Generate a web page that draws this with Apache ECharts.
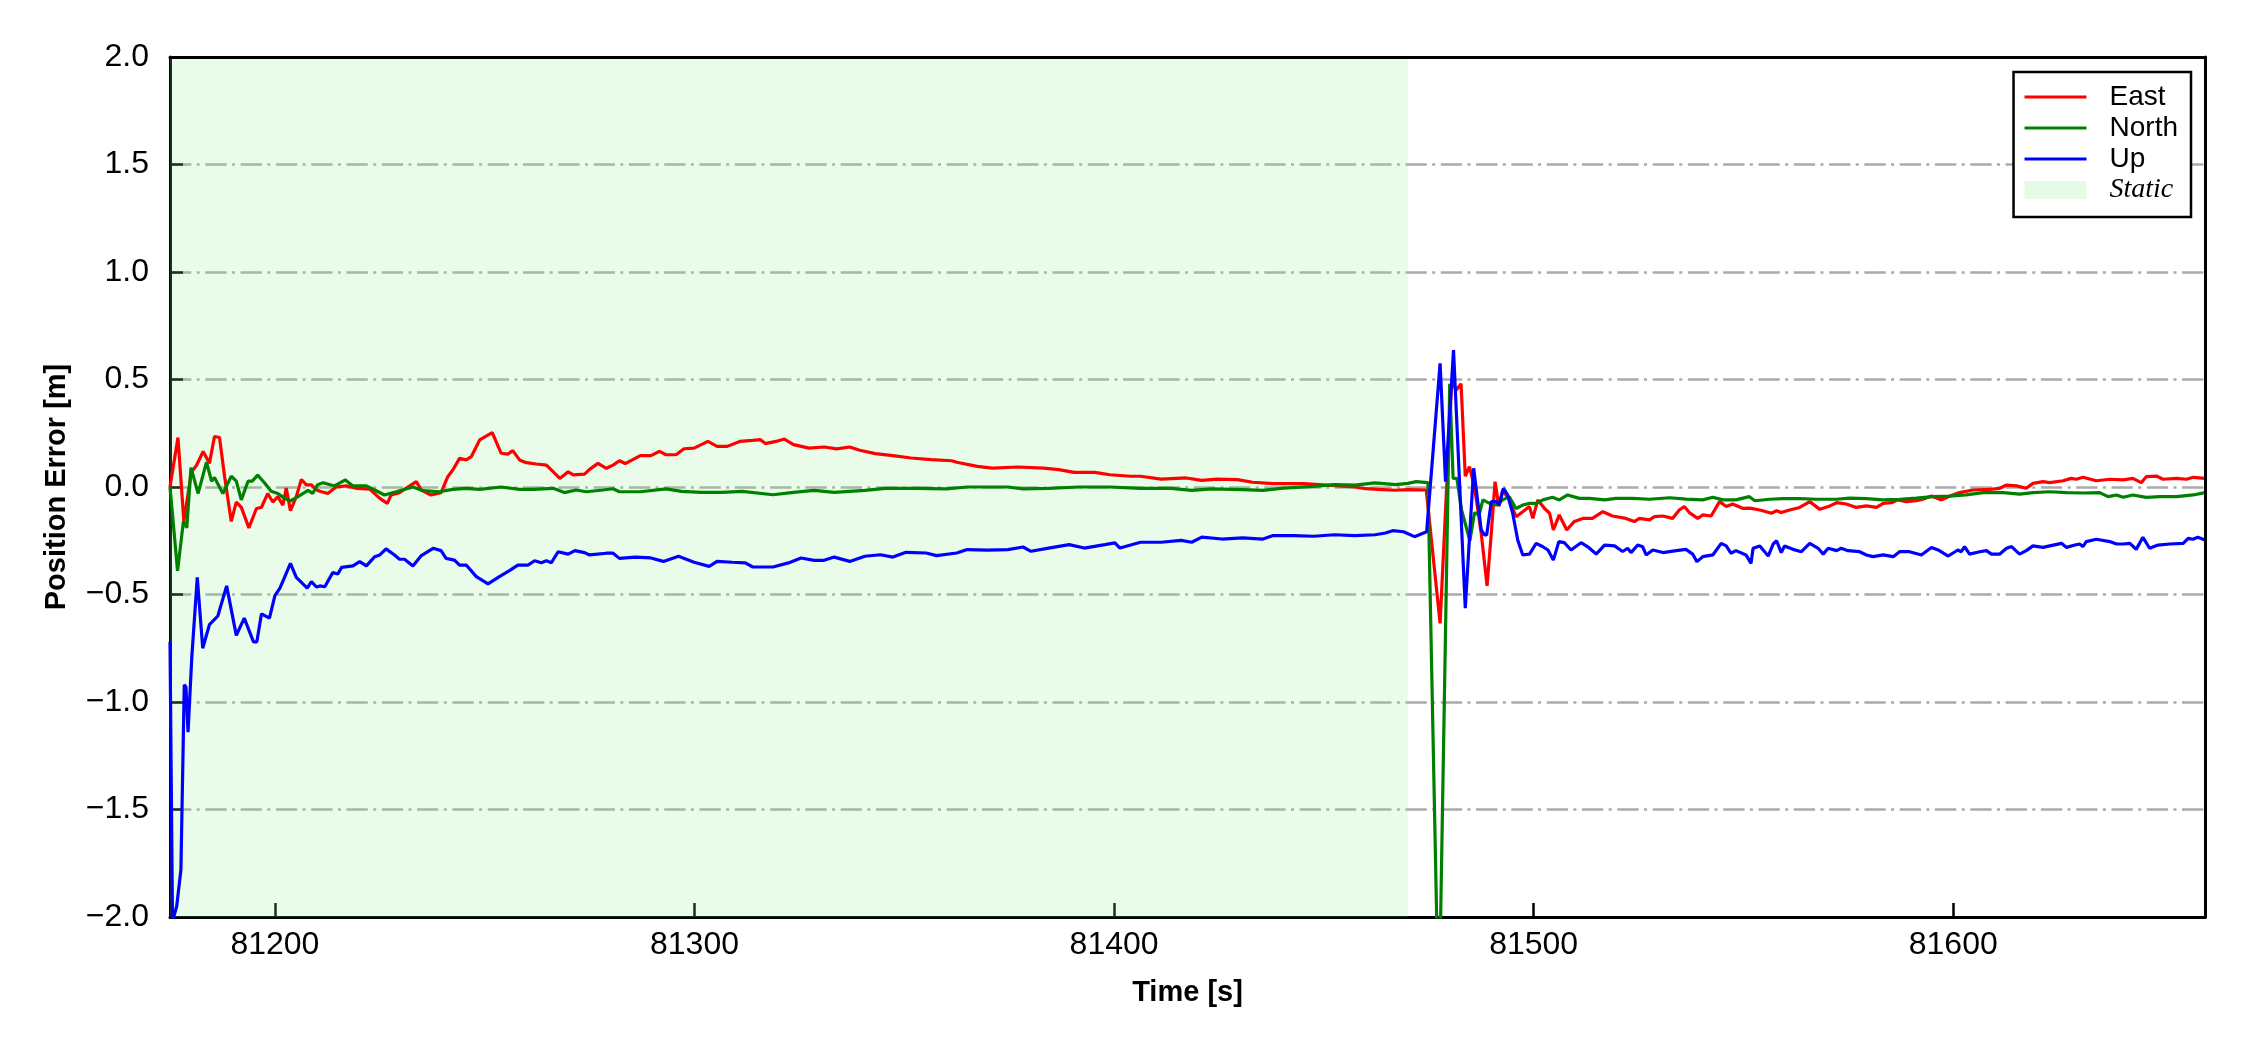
<!DOCTYPE html>
<html>
<head>
<meta charset="utf-8">
<script src="https://cdn.jsdelivr.net/npm/echarts@6/dist/echarts.min.js"></script>
<style>html,body{margin:0;padding:0;background:#fff}#c{width:2250px;height:1050px}</style>
</head>
<body>
<div id="c"></div>
<script>
// ---- data (time [s], error [m]) ----
const eastData = [
[81175.0,0.00],[81176.9,0.23],[81178.3,-0.16],[81180.1,0.07],[81181.3,0.10],[81182.9,0.165],[81184.4,0.11],[81185.6,0.235],[81186.8,0.23],[81188.0,0.05],[81189.6,-0.16],[81190.8,-0.07],[81192.0,-0.095],[81193.8,-0.19],[81195.6,-0.10],[81196.8,-0.095],[81198.3,-0.03],[81199.5,-0.07],[81200.7,-0.045],[81201.9,-0.085],[81202.7,-0.005],[81203.7,-0.11],[81205.1,-0.045],[81206.3,0.035],[81207.5,0.01],[81208.7,0.01],[81209.9,-0.013],
[81210.7,-0.02],[81212.6,-0.03],[81214.6,0.0],[81217.0,0.005],[81219.4,-0.006],[81222.6,-0.01],[81225.0,-0.053],[81226.8,-0.076],[81227.7,-0.037],[81229.7,-0.026],[81231.7,0.0],[81233.7,0.025],[81234.9,-0.014],[81237.2,-0.037],[81239.6,-0.026],[81241.2,0.048],[81242.4,0.079],[81244.0,0.133],[81245.6,0.126],[81246.8,0.141],[81248.8,0.219],[81251.8,0.253],[81253.9,0.157],[81255.5,0.153],[81256.7,0.169],[81258.3,0.126],[81259.9,0.113],[81262.3,0.107],[81264.7,0.102],[81266.3,0.071],[81267.9,0.04],[81269.9,0.071],[81271.1,0.056],[81273.8,0.06],[81275.0,0.082],[81277.0,0.11],[81279.0,0.087],[81280.6,0.102],[81282.1,0.122],
[81283.5,0.109],[81287.1,0.146],[81289.6,0.146],[81291.7,0.166],[81293.2,0.15],[81295.6,0.15],[81297.5,0.178],[81299.9,0.181],[81303.2,0.212],[81305.4,0.189],[81307.8,0.189],[81310.8,0.212],[81313.9,0.217],[81315.7,0.22],[81316.9,0.202],[81319.4,0.212],[81321.4,0.223],[81323.6,0.197],[81327.3,0.181],[81330.9,0.186],[81333.9,0.177],[81337.0,0.186],[81339.4,0.171],[81343.1,0.155],[81347.3,0.146],[81351.6,0.135],[81356.4,0.127],[81361.3,0.122],[81362.5,0.115],[81367.4,0.096],[81371.0,0.088],[81377.1,0.093],[81383.2,0.088],[81386.8,0.081],[81390.5,0.068],[81395.4,0.068],[81399.0,0.057],[81403.9,0.05],[81406.3,0.05],[81411.2,0.037],[81417.2,0.042],[81420.9,0.031],[81424.5,0.037],[81429.4,0.034],[81433.0,0.022],[81437.9,0.016],[81445.2,0.016],[81452.5,0.006],[81457.4,0.0],[81460.0,-0.008],[81464.0,-0.012],[81467.0,-0.015],[81470.0,-0.012],[81474.4,-0.014],
[81477.7,-0.634],[81480.5,0.50],[81481.5,0.45],[81482.7,0.48],[81483.7,0.05],[81484.7,0.095],[81485.9,0.0],[81487.5,-0.215],[81488.9,-0.46],[81489.9,-0.215],[81490.8,0.025],[81491.7,-0.09],[81492.6,-0.014],[81494.2,-0.06],[81495.8,-0.138],[81497.4,-0.115],[81499.0,-0.091],[81499.8,-0.146],[81501.0,-0.06],[81502.6,-0.1],[81503.8,-0.122],[81504.7,-0.2],[81506.1,-0.13],[81507.9,-0.2],[81509.7,-0.16],[81511.7,-0.146],[81514.0,-0.146],[81516.5,-0.115],[81518.8,-0.135],[81522.0,-0.146],[81524.0,-0.161],[81525.2,-0.146],[81527.6,-0.153],[81528.8,-0.138],[81530.8,-0.135],[81533.1,-0.146],[81534.7,-0.107],[81535.9,-0.091],[81537.1,-0.119],[81539.1,-0.146],[81540.3,-0.13],[81542.3,-0.135],[81544.3,-0.068],[81545.9,-0.091],[81547.4,-0.079],[81549.8,-0.099],
[81551.5,-0.098],[81553.9,-0.107],[81556.7,-0.122],[81557.9,-0.11],[81559.0,-0.119],[81561.0,-0.107],[81563.4,-0.095],[81565.8,-0.068],[81568.2,-0.104],[81570.6,-0.088],[81572.2,-0.073],[81574.5,-0.079],[81576.9,-0.095],[81579.3,-0.088],[81581.7,-0.095],[81583.3,-0.076],[81585.3,-0.073],[81586.8,-0.06],[81588.8,-0.068],[81591.2,-0.064],[81592.8,-0.057],[81594.8,-0.042],[81597.2,-0.06],[81599.2,-0.042],[81601.5,-0.026],[81604.7,-0.014],[81608.7,-0.011],[81611.1,-0.006],[81612.7,0.009],[81615.1,0.005],[81617.4,-0.006],[81619.0,0.017],[81621.4,0.025],[81623.0,0.02],[81626.2,0.029],[81628.1,0.04],[81629.3,0.036],[81630.9,0.045],[81634.1,0.029],[81637.3,0.036],[81640.5,0.033],[81642.8,0.04],[81644.8,0.02],[81646.0,0.048],[81648.4,0.051],[81650.0,0.036],[81653.2,0.04],[81655.6,0.036],[81657.2,0.045],[81660.0,0.04]
];
const northData = [
[81175.0,0.0],[81176.8,-0.39],[81178.2,-0.16],[81179.0,-0.19],[81180.0,0.09],[81181.7,-0.03],[81183.7,0.116],[81184.9,0.027],[81185.6,0.044],[81187.6,-0.03],[81189.6,0.05],[81190.8,0.027],[81192.0,-0.06],[81193.6,0.027],[81194.6,0.027],[81195.9,0.055],[81197.5,0.02],[81199.1,-0.02],[81200.7,-0.03],[81202.3,-0.053],[81203.7,-0.065],[81205.5,-0.045],[81207.9,-0.016],[81209.0,-0.03],[81210.2,0.011],
[81211.5,0.02],[81214.2,0.005],[81216.8,0.033],[81218.6,0.005],[81221.8,0.005],[81223.8,-0.014],[81226.1,-0.037],[81228.9,-0.022],[81232.9,0.0],[81235.3,-0.017],[81239.2,-0.022],[81242.4,-0.011],[81245.6,-0.006],[81248.8,-0.011],[81253.9,0.0],[81258.3,-0.011],[81261.5,-0.011],[81266.3,-0.006],[81269.0,-0.026],[81271.8,-0.014],[81274.2,-0.022],[81278.2,-0.014],[81280.6,-0.008],[81282.1,-0.022],
[81287.1,-0.022],[81293.2,-0.009],[81296.9,-0.02],[81301.7,-0.025],[81306.6,-0.025],[81311.4,-0.02],[81318.7,-0.036],[81323.6,-0.025],[81328.5,-0.016],[81333.3,-0.025],[81340.6,-0.016],[81345.5,-0.006],[81352.8,-0.006],[81360.1,-0.009],[81365.0,0.0],[81374.7,0.0],[81378.3,-0.009],[81384.4,-0.006],[81391.7,0.0],[81399.0,0.0],[81406.3,-0.006],[81413.6,-0.006],[81418.5,-0.016],[81423.3,-0.009],[81430.6,-0.012],[81435.5,-0.016],[81440.3,-0.005],[81447.6,0.003],[81452.5,0.011],[81457.4,0.009],[81462.2,0.019],[81467.1,0.011],[81470.0,0.017],[81472.0,0.025],[81474.8,0.02],
[81477.4,-2.5],[81480.0,0.48],[81480.8,0.04],[81481.7,0.04],[81482.8,-0.105],[81484.8,-0.25],[81485.9,-0.12],[81487.0,-0.13],[81487.9,-0.06],[81489.5,-0.076],[81491.1,-0.084],[81492.6,-0.06],[81494.2,-0.045],[81495.8,-0.1],[81497.4,-0.084],[81499.0,-0.076],[81500.6,-0.076],[81502.2,-0.06],[81504.5,-0.048],[81506.1,-0.06],[81508.1,-0.037],[81510.9,-0.053],[81513.3,-0.053],[81516.9,-0.06],[81519.6,-0.053],[81523.6,-0.053],[81527.6,-0.057],[81532.4,-0.05],[81536.3,-0.056],[81540.3,-0.06],[81542.7,-0.048],[81545.1,-0.06],[81548.2,-0.06],[81551.4,-0.045],
[81552.7,-0.064],[81556.3,-0.057],[81559.4,-0.054],[81563.4,-0.054],[81567.4,-0.057],[81572.2,-0.057],[81575.3,-0.052],[81579.3,-0.054],[81583.3,-0.06],[81587.2,-0.057],[81591.2,-0.052],[81595.2,-0.045],[81599.2,-0.042],[81603.1,-0.037],[81607.1,-0.026],[81611.9,-0.026],[81615.8,-0.033],[81619.0,-0.026],[81623.0,-0.022],[81627.0,-0.026],[81630.9,-0.028],[81634.9,-0.026],[81636.9,-0.045],[81638.9,-0.037],[81640.5,-0.048],[81642.8,-0.037],[81646.0,-0.048],[81649.2,-0.045],[81653.2,-0.045],[81657.2,-0.037],[81660.0,-0.026]
];
const upData = [
[81175.0,-0.72],[81175.6,-2.02],[81176.6,-1.95],[81177.6,-1.78],[81178.4,-0.92],[81178.8,-0.93],[81179.3,-1.14],[81180.2,-0.79],[81181.5,-0.42],[81182.8,-0.75],[81184.4,-0.64],[81186.4,-0.60],[81188.5,-0.46],[81190.8,-0.69],[81192.7,-0.61],[81194.9,-0.72],[81195.7,-0.72],[81196.8,-0.59],[81198.7,-0.61],[81200.0,-0.505],[81201.2,-0.47],[81202.3,-0.42],[81203.7,-0.355],[81205.1,-0.42],[81207.7,-0.47],[81208.7,-0.44],[81209.9,-0.465],
[81210.7,-0.46],[81211.9,-0.464],[81213.8,-0.398],[81215.0,-0.405],[81215.9,-0.374],[81218.6,-0.367],[81220.2,-0.347],[81221.8,-0.367],[81223.8,-0.324],[81225.0,-0.316],[81226.5,-0.288],[81228.5,-0.316],[81229.7,-0.336],[81230.9,-0.336],[81232.9,-0.367],[81234.9,-0.319],[81237.7,-0.285],[81239.6,-0.296],[81240.8,-0.332],[81242.8,-0.34],[81244.0,-0.363],[81245.6,-0.363],[81248.0,-0.417],[81250.8,-0.451],[81253.5,-0.417],[81255.9,-0.389],[81257.9,-0.363],[81260.3,-0.363],[81261.9,-0.343],[81263.5,-0.352],[81264.7,-0.343],[81265.9,-0.352],[81267.5,-0.301],[81269.9,-0.312],[81271.5,-0.296],[81273.8,-0.305],[81275.0,-0.316],[81279.0,-0.308],[81280.6,-0.308],[81282.1,-0.332],
[81285.9,-0.326],[81289.6,-0.33],[81292.6,-0.346],[81296.2,-0.322],[81299.9,-0.35],[81303.5,-0.369],[81305.4,-0.346],[81309.0,-0.35],[81312.1,-0.353],[81313.9,-0.372],[81318.7,-0.372],[81322.4,-0.353],[81325.4,-0.33],[81328.5,-0.341],[81330.9,-0.341],[81333.3,-0.326],[81337.0,-0.346],[81340.6,-0.322],[81344.3,-0.315],[81347.3,-0.326],[81350.4,-0.304],[81355.2,-0.307],[81357.7,-0.319],[81362.5,-0.307],[81365.0,-0.291],[81369.8,-0.294],[81374.7,-0.291],[81378.3,-0.279],[81380.2,-0.299],[81384.4,-0.284],[81389.3,-0.268],[81392.9,-0.284],[81397.8,-0.268],[81400.2,-0.26],[81401.4,-0.284],[81406.3,-0.257],[81411.2,-0.257],[81416.0,-0.248],[81418.5,-0.257],[81420.9,-0.233],[81425.7,-0.242],[81430.6,-0.237],[81435.5,-0.242],[81437.9,-0.226],[81442.8,-0.226],[81447.6,-0.229],[81452.5,-0.222],[81457.4,-0.226],[81462.2,-0.222],[81464.7,-0.214],[81466.4,-0.203],[81469.0,-0.208],[81471.6,-0.231],[81474.5,-0.208],
[81477.7,0.575],[81479.0,0.025],[81480.9,0.637],[81483.7,-0.564],[81485.7,0.087],[81487.5,-0.2],[81488.3,-0.223],[81488.8,-0.223],[81489.9,-0.068],[81491.1,-0.068],[81491.8,-0.084],[81492.8,-0.006],[81493.8,-0.037],[81495.0,-0.122],[81496.2,-0.246],[81497.4,-0.316],[81499.0,-0.312],[81500.6,-0.262],[81502.2,-0.278],[81503.4,-0.293],[81504.7,-0.34],[81506.0,-0.254],[81507.3,-0.259],[81508.9,-0.293],[81511.3,-0.259],[81512.9,-0.278],[81514.9,-0.312],[81516.9,-0.27],[81519.3,-0.274],[81521.2,-0.3],[81522.4,-0.285],[81523.2,-0.305],[81524.8,-0.27],[81526.0,-0.278],[81526.8,-0.316],[81528.4,-0.293],[81530.8,-0.305],[81534.0,-0.296],[81536.3,-0.29],[81537.9,-0.312],[81538.9,-0.347],[81540.3,-0.324],[81542.7,-0.316],[81544.7,-0.262],[81545.9,-0.274],[81547.0,-0.308],[81548.2,-0.296],[81550.6,-0.316],[81551.8,-0.355],
[81552.3,-0.285],[81553.9,-0.274],[81555.9,-0.321],[81557.1,-0.265],[81557.9,-0.25],[81559.0,-0.305],[81559.8,-0.274],[81561.8,-0.29],[81563.8,-0.301],[81565.8,-0.262],[81567.8,-0.285],[81569.0,-0.312],[81570.2,-0.285],[81572.2,-0.296],[81573.3,-0.285],[81574.9,-0.296],[81577.7,-0.301],[81579.3,-0.316],[81580.9,-0.324],[81583.3,-0.316],[81585.7,-0.324],[81587.2,-0.301],[81589.6,-0.301],[81592.4,-0.316],[81594.8,-0.281],[81596.4,-0.293],[81598.8,-0.321],[81601.1,-0.293],[81601.9,-0.301],[81602.7,-0.278],[81603.9,-0.312],[81606.3,-0.301],[81607.9,-0.296],[81609.1,-0.312],[81611.1,-0.312],[81612.7,-0.285],[81613.9,-0.277],[81615.8,-0.312],[81617.4,-0.296],[81619.0,-0.274],[81621.4,-0.281],[81623.0,-0.274],[81625.8,-0.262],[81627.0,-0.281],[81629.0,-0.27],[81630.1,-0.265],[81630.9,-0.277],[81631.7,-0.254],[81634.1,-0.243],[81637.3,-0.254],[81638.9,-0.265],[81640.5,-0.265],[81642.1,-0.262],[81643.6,-0.29],[81645.2,-0.234],[81646.8,-0.285],[81648.8,-0.27],[81651.6,-0.265],[81654.8,-0.262],[81656.0,-0.239],[81657.1,-0.243],[81658.3,-0.234],[81660.0,-0.246]
];
const staticSpan = [81175, 81470];
const xRange = [81175, 81660];
const yRange = [-2, 2];
const yStep = 0.5;
const seriesNames = ['East', 'North', 'Up'];
const seriesColors = ['#ff0000', '#008000', '#0000ff'];
const staticName = 'Static';

const lineIcon = 'path://M0,0H62V3H0Z';
const FONT = 'Liberation Sans';

const chart = echarts.init(document.getElementById('c'), null, {renderer: 'canvas'});
const dataSets = [eastData, northData, upData];

const lineSeries = seriesNames.map((n, i) => ({
  name: n, type: 'line', data: dataSets[i], symbol: 'none', showSymbol: false,
  clip: true, z: 3,
  lineStyle: {color: seriesColors[i], width: 3.2},
  itemStyle: {color: seriesColors[i]},
  emphasis: {disabled: true}
}));

const legendText = {fontFamily: FONT, fontSize: 28, color: '#000', padding: [0, 0, 0, 18]};

const option = {
  animation: false,
  backgroundColor: '#ffffff',
  textStyle: {fontFamily: FONT},
  grid: {left: 170, right: 45, top: 57, bottom: 133, containLabel: false},
  legend: {
    orient: 'vertical', right: 59, top: 72,
    padding: [11, 13, 13, 11], itemGap: 3, itemWidth: 62, itemHeight: 18,
    backgroundColor: '#ffffff', borderColor: '#000000', borderWidth: 2.5, borderRadius: 0,
    selectedMode: false, z: 20,
    textStyle: legendText,
    data: [
      {name: 'East', icon: lineIcon, itemStyle: {color: seriesColors[0]}},
      {name: 'North', icon: lineIcon, itemStyle: {color: seriesColors[1]}},
      {name: 'Up', icon: lineIcon, itemStyle: {color: seriesColors[2]}},
      {name: staticName, icon: 'rect', itemStyle: {color: '#e6fbe6'},
       textStyle: {fontFamily: 'Liberation Serif', fontStyle: 'italic', fontSize: 28, color: '#000', padding: [0, 0, 0, 18]}}
    ]
  },
  xAxis: [{
    type: 'value', min: xRange[0], max: xRange[1], splitNumber: 5, minInterval: 100, maxInterval: 100,
    axisLine: {show: true, onZero: false, lineStyle: {color: '#000', width: 3}},
    axisTick: {show: true, inside: true, length: 14, lineStyle: {color: '#000', width: 2.5}},
    axisLabel: {margin: 12, fontSize: 32, color: '#000', fontFamily: FONT, showMinLabel: false, showMaxLabel: false,
      formatter: v => String(Math.round(v))},
    splitLine: {show: false},
    name: 'Time [s]', nameLocation: 'middle', nameGap: 61,
    nameTextStyle: {fontWeight: 'bold', fontSize: 29, color: '#000', fontFamily: FONT}
  }, {
    type: 'value', position: 'top', min: xRange[0], max: xRange[1], z: 10,
    axisLine: {show: true, onZero: false, lineStyle: {color: '#000', width: 3}},
    axisTick: {show: false}, axisLabel: {show: false}, splitLine: {show: false}
  }],
  yAxis: [{
    type: 'value', min: yRange[0], max: yRange[1], interval: yStep,
    axisLine: {show: true, onZero: false, lineStyle: {color: '#000', width: 3}},
    axisTick: {show: true, inside: true, length: 13, lineStyle: {color: '#000', width: 2.5}},
    axisLabel: {margin: 21, fontSize: 32, color: '#000', fontFamily: FONT,
      formatter: v => (v < 0 ? '\u2212' : '') + Math.abs(v).toFixed(1)},
    splitLine: {show: true, lineStyle: {color: '#aaaaaa', width: 2.5, type: [21.3, 5.4, 3, 5.6]}},
    name: 'Position Error [m]', nameLocation: 'middle', nameGap: 99, nameRotate: 90,
    nameTextStyle: {fontWeight: 'bold', fontSize: 29, color: '#000', fontFamily: FONT}
  }, {
    type: 'value', position: 'right', min: yRange[0], max: yRange[1], z: 10,
    axisLine: {show: true, onZero: false, lineStyle: {color: '#000', width: 3}},
    axisTick: {show: false}, axisLabel: {show: false}, splitLine: {show: false}
  }],
  series: [
    {
      name: staticName, type: 'line', data: [], symbol: 'none', z: 1,
      itemStyle: {color: '#e6fbe6'},
      markArea: {
        silent: true,
        itemStyle: {color: 'rgba(144,238,144,0.2)'},
        data: [[{xAxis: staticSpan[0]}, {xAxis: staticSpan[1]}]]
      }
    },
    ...lineSeries
  ]
};
chart.setOption(option);
</script>
</body>
</html>
